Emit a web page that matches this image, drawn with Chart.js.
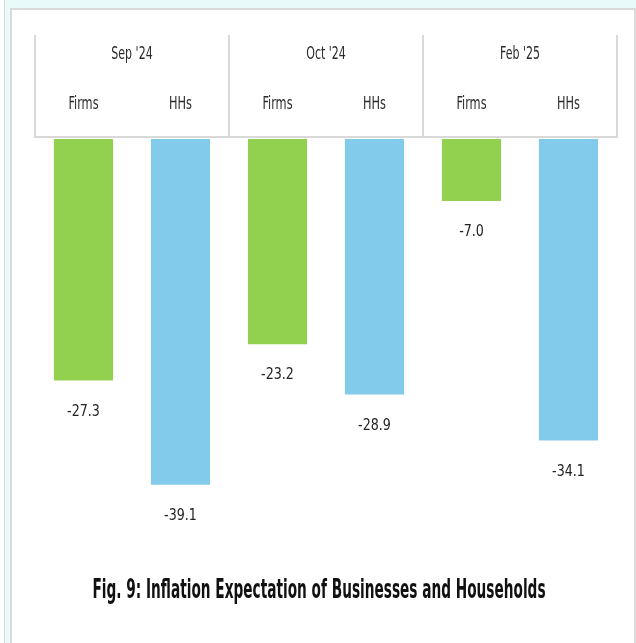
<!DOCTYPE html>
<html lang="en">
<head>
<meta charset="UTF-8">
<title>Inflation Expectation of Businesses and Households</title>
<script src="https://cdn.jsdelivr.net/npm/chart.js"></script>
<style>
    html, body { margin: 0; padding: 0; background: #ffffff; }
    body { width: 636px; height: 643px; overflow: hidden; position: relative; }
    .outer {
        position: absolute; left: 4px; top: 0; width: 632px; height: 643px;
        background: #e9fafa; border-left: 1.5px solid #d9d9d9;
    }
    .panel {
        position: absolute; left: 10px; top: 8px; width: 622px; height: 700px;
        background: #ffffff; border: 2px solid #dadada;
    }
    #chart { position: absolute; left: 12px; top: 10px; }
</style>
</head>
<body>
    <div class="outer"></div>
    <div class="panel"></div>
    <canvas id="chart" width="622" height="633"></canvas>
<script>
// data
const periods = ["Sep '24", "Oct '24", "Feb '25"];
const groups = ['Firms', 'HHs', 'Firms', 'HHs', 'Firms', 'HHs'];
const values = [-27.3, -39.1, -23.2, -28.9, -7.0, -34.1];
const barColors = ['#92d050', '#83cbeb', '#92d050', '#83cbeb', '#92d050', '#83cbeb'];

const FONT = '"Liberation Sans Narrow", "DejaVu Sans Condensed", "Liberation Sans", sans-serif';

// text in a narrow face, squeezed to look like the original condensed font
function narrowText(ctx, txt, x, y, size, weight, sx) {
    ctx.save();
    ctx.font = weight + ' ' + size + 'px ' + FONT;
    ctx.textAlign = 'center';
    ctx.textBaseline = 'middle';
    ctx.translate(x, y);
    ctx.scale(sx, 1);
    ctx.fillText(txt, 0, 0);
    ctx.restore();
}

const headerPlugin = {
    id: 'header',
    afterDraw(chart) {
        const ctx = chart.ctx;
        const area = chart.chartArea;
        const xs = chart.scales.x;
        const top = area.top - 104, bottom = area.top - 2;

        ctx.save();
        ctx.strokeStyle = '#d9d9d9';
        ctx.lineWidth = 2;
        ctx.beginPath();
        ctx.moveTo(area.left, top);
        ctx.lineTo(area.left, bottom);
        ctx.lineTo(area.right, bottom);
        ctx.lineTo(area.right, top);
        for (let i = 1; i < periods.length; i++) {
            const xm = (xs.getPixelForValue(i * 2 - 1) + xs.getPixelForValue(i * 2)) / 2;
            ctx.moveTo(xm, top);
            ctx.lineTo(xm, bottom);
        }
        ctx.stroke();

        ctx.fillStyle = '#2b2b2b';
        periods.forEach((p, i) => {
            const xm = (xs.getPixelForValue(i * 2) + xs.getPixelForValue(i * 2 + 1)) / 2;
            narrowText(ctx, p, xm, top + 20, 17, 'normal', 0.72);
        });
        groups.forEach((g, i) => {
            narrowText(ctx, g, xs.getPixelForValue(i), top + 70, 17, 'normal', 0.74);
        });

        // value labels under each bar
        const meta = chart.getDatasetMeta(0);
        ctx.fillStyle = '#222222';
        meta.data.forEach((bar, i) => {
            narrowText(ctx, values[i].toFixed(1), bar.x, bar.y + 31, 16, 'normal', 0.88);
        });

        // caption
        ctx.fillStyle = '#111111';
        narrowText(ctx, 'Fig. 9: Inflation Expectation of Businesses and Households',
            (area.left + area.right) / 2 - 7, area.bottom + 54, 26, 'bold', 0.585);
        ctx.restore();
    }
};

new Chart(document.getElementById('chart'), {
    type: 'bar',
    data: {
        labels: groups,
        datasets: [{
            data: values,
            backgroundColor: barColors,
            borderWidth: 0,
            barPercentage: 0.61,
            categoryPercentage: 1
        }]
    },
    options: {
        responsive: false,
        animation: false,
        layout: { padding: { left: 23, right: 17, top: 129, bottom: 106 } },
        plugins: {
            legend: { display: false },
            tooltip: { enabled: false }
        },
        scales: {
            x: { display: false },
            y: { display: false, min: -45, max: 0 }
        }
    },
    plugins: [headerPlugin]
});
</script>
</body>
</html>
